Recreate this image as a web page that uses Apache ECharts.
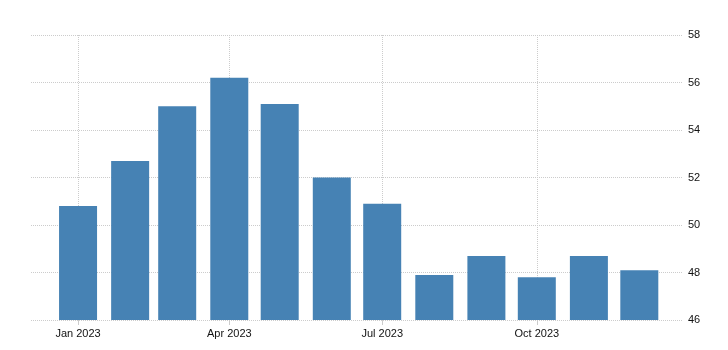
<!DOCTYPE html>
<html>
<head>
<meta charset="utf-8">
<script src="https://cdn.jsdelivr.net/npm/echarts@6/dist/echarts.min.js"></script>
<style>
  html, body { margin: 0; padding: 0; background: #fff; }
  #main { width: 728px; height: 350px; }
</style>
</head>
<body>
<div id="main"></div>
<script>
// months of 2023 and the values
const meses = ['2023-01-01', '2023-02-01', '2023-03-01', '2023-04-01', '2023-05-01', '2023-06-01',
               '2023-07-01', '2023-08-01', '2023-09-01', '2023-10-01', '2023-11-01', '2023-12-01'];
const valores = [50.8, 52.7, 55.0, 56.2, 55.1, 52.0, 50.9, 47.9, 48.7, 47.8, 48.7, 48.1];
const marcasX = ['2023-01-01', '2023-04-01', '2023-07-01', '2023-10-01'];
const nombresMes = ['Jan', 'Feb', 'Mar', 'Apr', 'May', 'Jun', 'Jul', 'Aug', 'Sep', 'Oct', 'Nov', 'Dec'];

const fuente = 'Liberation Sans, Arial, sans-serif';
const DIA = 24 * 3600 * 1000;
const ts = d => new Date(d + 'T00:00:00Z').getTime();

const myChart = echarts.init(document.getElementById('main'));

const option = {
    animation: false,
    grid: { left: 31, right: 45, top: 35, bottom: 30 },
    xAxis: {
        type: 'value',
        min: ts('2023-01-01') - 28 * DIA,
        max: ts('2023-12-01') + 26 * DIA,
        axisLine: { show: false },
        axisTick: {
            show: true,
            length: 5,
            lineStyle: { color: '#ccc' },
            customValues: marcasX.map(ts)
        },
        axisLabel: {
            customValues: marcasX.map(ts),
            color: '#111',
            fontFamily: fuente,
            fontSize: 11,
            margin: 8,
            formatter: v => {
                const d = new Date(v);
                return nombresMes[d.getUTCMonth()] + ' ' + d.getUTCFullYear();
            }
        },
        splitLine: {
            show: true,
            lineStyle: { color: '#ccc', type: 'dotted', width: 1 }
        }
    },
    yAxis: {
        type: 'value',
        position: 'right',
        min: 46,
        max: 58,
        interval: 2,
        axisLine: { show: false },
        axisTick: { show: false },
        axisLabel: { color: '#111', fontFamily: fuente, fontSize: 11, margin: 5 },
        splitLine: { lineStyle: { color: '#ccc', type: 'dotted', width: 1 } }
    },
    series: [{
        type: 'bar',
        barWidth: 38,
        itemStyle: { color: '#4682b4' },
        data: meses.map((m, i) => [ts(m), valores[i]])
    }]
};

myChart.setOption(option);
</script>
</body>
</html>
